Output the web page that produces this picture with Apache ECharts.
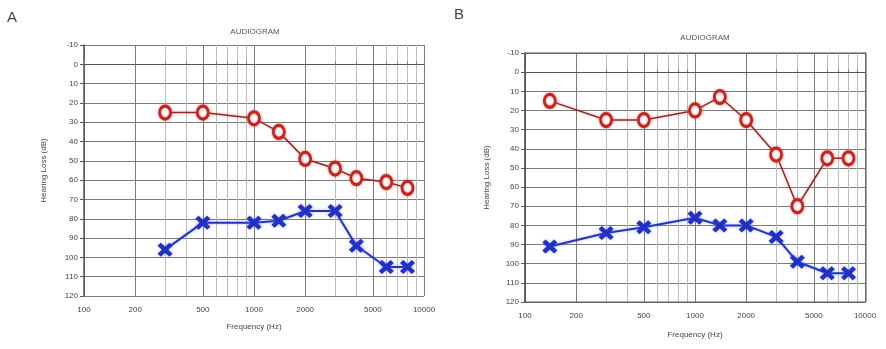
<!DOCTYPE html>
<html>
<head>
<meta charset="utf-8">
<script src="https://cdn.jsdelivr.net/npm/echarts@6/dist/echarts.min.js"></script>
<style>
  html, body { margin: 0; padding: 0; background: #fff; }
  #chart-container { width: 886px; height: 349px; }
</style>
</head>
<body>
<div id="chart-container"></div>
<script>
// panel A
var freqA = [300, 500, 1000, 1400, 2000, 3000, 4000, 6000, 8000];
var rightA = [25, 25, 28, 35, 49, 54, 59, 61, 64];
var leftA = [96, 82, 82, 81, 76, 76, 94, 105, 105];

// panel B
var freqB = [140, 300, 500, 1000, 1400, 2000, 3000, 4000, 6000, 8000];
var rightB = [15, 25, 25, 20, 13, 25, 43, 70, 45, 45];
var leftB = [91, 84, 81, 76, 80, 80, 86, 99, 105, 105];

// axes
var freqLabels = [100, 200, 500, 1000, 2000, 5000, 10000];
var freqGrid = [100, 200, 300, 400, 500, 600, 700, 800, 900, 1000,
  2000, 3000, 4000, 5000, 6000, 7000, 8000, 9000, 10000];
var dbMin = -10, dbMax = 120, dbStep = 10;

var dom = document.getElementById('chart-container');
var myChart = echarts.init(dom, null, { renderer: 'canvas' });

var font = 'Liberation Sans';
var gridColors = freqGrid.map(function (f) {
  return freqLabels.indexOf(f) >= 0 ? '#7a7a7a' : '#bdbdbd';
});

function pairs(xs, ys) {
  return xs.map(function (x, i) { return [x, ys[i]]; });
}

var xPath = 'path://M0,3 L3,0 L7,4 L11,0 L14,3 L10,7 L14,11 L11,14 L7,10 L3,14 L0,11 L4,7 Z';

function xAxisFor(idx, gap) {
  return {
    type: 'log',
    logBase: 10,
    gridIndex: idx,
    min: 100,
    max: 10000,
    name: 'Frequency (Hz)',
    nameLocation: 'middle',
    nameGap: gap,
    nameTextStyle: { fontFamily: font, fontSize: 8, color: '#444' },
    axisLine: { show: true, lineStyle: { color: '#555', width: 1 } },
    axisTick: { show: true, customValues: freqGrid, length: 3, inside: true,
      lineStyle: { color: '#888' } },
    axisLabel: { customValues: freqLabels, fontFamily: font, fontSize: 8,
      color: '#444', margin: 10,
      formatter: function (v) { return String(Math.round(v)); } },
    splitLine: { show: true, lineStyle: { color: gridColors, width: 1 } },
    minorSplitLine: { show: false }
  };
}

function yAxisFor(idx, gap) {
  return {
    type: 'value',
    gridIndex: idx,
    inverse: true,
    min: dbMin,
    max: dbMax,
    interval: dbStep,
    name: 'Hearing Loss (dB)',
    nameLocation: 'middle',
    nameGap: gap,
    nameTextStyle: { fontFamily: font, fontSize: 8, color: '#444' },
    axisLine: { show: true, lineStyle: { color: '#555', width: 1.5 } },
    axisTick: { show: true, length: 4, lineStyle: { color: '#555' } },
    axisLabel: { fontFamily: font, fontSize: 8, color: '#444', margin: 6 },
    splitLine: { show: true, lineStyle: { color: '#7a7a7a', width: 1 } }
  };
}

function earSeries(idx, xs, ys, right) {
  if (right) {
    return {
      type: 'line',
      xAxisIndex: idx,
      yAxisIndex: idx,
      data: pairs(xs, ys),
      symbol: 'circle',
      symbolSize: [11, 13],
      z: 3,
      itemStyle: { color: '#fff', borderColor: '#c3261e', borderWidth: 3,
        shadowColor: 'rgba(220,60,60,0.5)', shadowBlur: 3 },
      lineStyle: { color: '#8e2a26', width: 1.5,
        shadowColor: 'rgba(230,90,90,0.5)', shadowBlur: 3 }
    };
  }
  return {
    type: 'line',
    xAxisIndex: idx,
    yAxisIndex: idx,
    data: pairs(xs, ys),
    symbol: xPath,
    symbolSize: [15, 14],
    z: 3,
    itemStyle: { color: '#2231c4', borderWidth: 0,
      shadowColor: 'rgba(80,100,255,0.5)', shadowBlur: 3 },
    lineStyle: { color: '#2436b8', width: 2,
      shadowColor: 'rgba(90,110,255,0.5)', shadowBlur: 3 }
  };
}

var option = {
  animation: false,
  backgroundColor: '#fff',
  grid: [
    { left: 84, top: 45, width: 340, height: 251 },
    { left: 525, top: 53, width: 340, height: 249 }
  ],
  xAxis: [xAxisFor(0, 27), xAxisFor(1, 29)],
  yAxis: [yAxisFor(0, 36), yAxisFor(1, 34)],
  graphic: [
    { type: 'text', left: 7, top: 10,
      style: { text: 'A', fontFamily: font, fontSize: 15, fill: '#444' } },
    { type: 'text', left: 454, top: 7,
      style: { text: 'B', fontFamily: font, fontSize: 15, fill: '#444' } },
    { type: 'text', x: 255, y: 32,
      style: { text: 'AUDIOGRAM', fontFamily: font, fontSize: 8, fill: '#555',
        align: 'center', verticalAlign: 'middle' } },
    { type: 'text', x: 705, y: 38,
      style: { text: 'AUDIOGRAM', fontFamily: font, fontSize: 8, fill: '#555',
        align: 'center', verticalAlign: 'middle' } },
    // right frame of panel B
    { type: 'rect', shape: { x: 525, y: 53, width: 341, height: 249 },
      style: { fill: 'none', stroke: '#555', lineWidth: 1 }, z: 1 }
  ],
  series: [
    earSeries(0, freqA, rightA, true),
    earSeries(0, freqA, leftA, false),
    earSeries(1, freqB, rightB, true),
    earSeries(1, freqB, leftB, false)
  ]
};

if (option && typeof option === 'object') {
  myChart.setOption(option);
}

window.addEventListener('resize', myChart.resize);
</script>
</body>
</html>
